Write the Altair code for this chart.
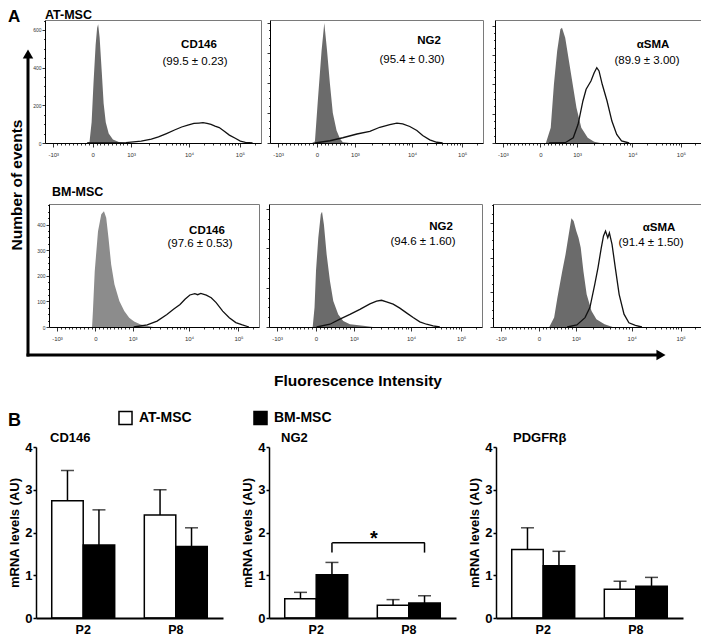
import math
import altair as alt
import pandas as pd

FONT = "Liberation Sans"

# ---------------- Panel A : flow cytometry histograms ----------------
# display channel (0-1024) positions of the decade ticks of the biexponential axis
TICK_CH = [39, 226, 408, 683, 924]
TICK_LABELS = ["-10³", "0", "10³", "10⁴", "10⁵"]

markers = ["CD146", "NG2", "αSMA"]
at_pct = ["(99.5 ± 0.23)", "(95.4 ± 0.30)", "(89.9 ± 3.00)"]
bm_pct = ["(97.6 ± 0.53)", "(94.6 ± 1.60)", "(91.4 ± 1.50)"]

# AT-MSC row: isotype (grey) and marker (black outline) histograms
cd146_at_iso_ch = [197, 211, 221, 230, 240, 247, 252, 259, 269, 278, 288, 302, 322, 350, 384]
cd146_at_iso_n = [0, 5, 110, 320, 520, 610, 630, 560, 380, 210, 110, 50, 18, 5, 0]
cd146_at_ch = [200, 264, 384, 456, 504, 538, 576, 614, 648, 677, 706, 730, 749, 768, 787, 806, 826, 850, 874, 902, 926, 950, 984]
cd146_at_n = [0, 0, 2, 10, 20, 32, 50, 69, 85, 95, 104, 106, 108, 104, 99, 90, 82, 62, 42, 25, 10, 3, 0]

ng2_at_iso_ch = [202, 216, 230, 248, 261, 274, 288, 302, 320, 336, 350, 384]
ng2_at_iso_n = [0, 10, 283, 617, 800, 620, 397, 200, 83, 30, 5, 0]
ng2_at_ch = [216, 288, 350, 418, 480, 528, 576, 610, 638, 672, 706, 734, 768, 802, 830]
ng2_at_n = [0, 15, 35, 60, 78, 105, 123, 132, 128, 110, 83, 50, 21, 5, 0]

asma_at_iso_ch = [253, 277, 293, 309, 325, 333, 349, 373, 389, 405, 429, 461, 493, 523]
asma_at_iso_n = [0, 105, 403, 628, 777, 787, 719, 514, 378, 241, 105, 36, 9, 0]
asma_at_ch = [269, 349, 389, 413, 437, 453, 477, 493, 506, 517, 533, 557, 581, 605, 629, 667]
asma_at_n = [0, 2, 36, 128, 287, 367, 423, 480, 514, 492, 401, 287, 150, 59, 14, 0]

# BM-MSC row
cd146_bm_iso_ch = [210, 214, 223, 239, 255, 268, 279, 290, 303, 319, 343, 367, 391, 415, 447, 479, 509]
cd146_bm_iso_n = [0, 60, 218, 374, 440, 452, 426, 348, 245, 167, 101, 62, 36, 21, 10, 5, 0]
cd146_bm_ch = [413, 479, 527, 575, 607, 639, 663, 687, 711, 725, 740, 767, 791, 815, 847, 879, 911, 943, 975]
cd146_bm_n = [0, 8, 23, 49, 69, 88, 108, 125, 130, 126, 131, 124, 114, 95, 62, 36, 17, 8, 0]

ng2_bm_iso_ch = [210, 219, 226, 237, 249, 255, 264, 277, 293, 309, 333, 357, 389, 453, 500]
ng2_bm_iso_n = [0, 50, 143, 227, 287, 293, 261, 185, 117, 66, 32, 15, 7, 3, 0]
ng2_bm_ch = [229, 293, 341, 389, 437, 485, 517, 541, 565, 597, 629, 661, 693, 725, 757, 789, 821]
ng2_bm_n = [0, 7, 20, 32, 45, 59, 66, 68, 64, 58, 48, 36, 24, 13, 7, 3, 0]

asma_bm_iso_ch = [277, 301, 317, 341, 357, 373, 386, 397, 410, 421, 432, 445, 461, 485, 509, 549, 589]
asma_bm_iso_n = [0, 27, 84, 161, 209, 267, 313, 305, 276, 257, 228, 161, 94, 46, 22, 8, 0]
asma_bm_ch = [365, 413, 453, 477, 501, 517, 533, 544, 554, 565, 573, 586, 602, 621, 645, 669, 701, 733]
asma_bm_n = [0, 6, 27, 56, 123, 171, 228, 262, 276, 257, 271, 238, 171, 94, 37, 12, 5, 0]

# ---------------- Panel B : qPCR bars ----------------
passages = ["P2", "P8"]
groups = ["AT-MSC", "BM-MSC"]
genes = ["CD146", "NG2", "PDGFRβ"]

cd146_at = [2.74, 2.41]
cd146_at_sd = [0.71, 0.59]
cd146_bm = [1.71, 1.67]
cd146_bm_sd = [0.82, 0.44]

ng2_at = [0.45, 0.30]
ng2_at_sd = [0.15, 0.13]
ng2_bm = [1.01, 0.35]
ng2_bm_sd = [0.29, 0.17]

pdgfrb_at = [1.60, 0.67]
pdgfrb_at_sd = [0.51, 0.19]
pdgfrb_bm = [1.22, 0.74]
pdgfrb_bm_sd = [0.34, 0.21]

sig_bracket = [1.53, 1.76]   # NG2 BM-MSC P2 vs P8

# ---------------- layout (pixel ranges of each panel inside one view) ----------------
W, H = 693, 609
ROW1_Y = [134, 11]
ROW2_Y = [318, 195]
BAR_Y = [609, 438]
ROW1_X = [[37, 253], [262, 475], [487, 693]]
ROW2_X = [[41, 251], [261, 474], [485, 693]]
BAR_X = [[28, 215], [261, 448], [488, 675]]

ONE = pd.DataFrame({"k": [0]})


def minor_x():
    vals = []
    for a, b in [(TICK_CH[0], TICK_CH[1]), (TICK_CH[1], TICK_CH[2])]:
        for i in range(1, 10):
            vals.append(round(a + (b - a) * i / 10, 1))
    for a, b in [(TICK_CH[2], TICK_CH[3]), (TICK_CH[3], TICK_CH[4])]:
        for k in range(2, 10):
            vals.append(round(a + (b - a) * math.log10(k), 1))
    d = TICK_CH[4] - TICK_CH[3]
    for k in range(2, 10):
        v = TICK_CH[4] + d * math.log10(k)
        if v < 1022:
            vals.append(round(v, 1))
    return vals


X_VALUES = sorted(set(TICK_CH + minor_x()))
X_LABEL_EXPR = " : ".join(f"datum.value == {c} ? '{l}'" for c, l in zip(TICK_CH, TICK_LABELS)) + " : ''"
X_MAJOR = "indexof([" + ",".join(str(c) for c in TICK_CH) + "], datum.value) >= 0"


def txt(s, x, y, size, weight="normal", align="center", baseline="middle", angle=0, color="black"):
    kw = dict(font=FONT, fontSize=size, fontWeight=weight, align=align, baseline=baseline, color=color)
    if angle:
        kw["angle"] = angle
    return alt.Chart(ONE).mark_text(**kw).encode(x=alt.value(x), y=alt.value(y), text=alt.value(s))


def hist(iso_ch, iso_n, ch, n, ymax, ystep, ylabels, xr, yr, gray, name, pct, name_pos, pct_pos):
    g = pd.DataFrame({"ch": iso_ch, "n": iso_n})
    p = pd.DataFrame({"ch": ch, "n": n})
    xsc = alt.Scale(domain=[0, 1024], range=xr, nice=False, zero=False)
    ysc = alt.Scale(domain=[0, ymax], range=yr, nice=False)
    minor = ystep / 4
    yvals = [round(i * minor, 2) for i in range(int(ymax / minor) + 1)]
    xax = alt.Axis(orient="bottom", offset=-(H - yr[0]), values=X_VALUES, labelExpr=X_LABEL_EXPR,
                   tickSize={"condition": {"test": X_MAJOR, "value": 4}, "value": 2},
                   tickColor="black", tickWidth=0.8, domainColor="black", domainWidth=1,
                   labelFontSize=6, labelColor="#333", labelPadding=4, grid=False, title=None,
                   labelFlush=False, labelOverlap=False, zindex=1)
    yax = alt.Axis(orient="left", offset=-xr[0], values=yvals,
                   labelExpr=(f"datum.value % {ystep} == 0 ? datum.label : ''" if ylabels else "''"),
                   tickSize={"condition": {"test": f"datum.value % {ystep} == 0", "value": 3}, "value": 1.5},
                   tickColor="black", tickWidth=0.8, domainColor="black", domainWidth=1,
                   labelFontSize=5, labelColor="#333", labelPadding=1, grid=False, title=None,
                   labelFlush=False, labelOverlap=False, zindex=1)
    frame_top = alt.Axis(orient="top", offset=-yr[1], ticks=False, labels=False, grid=False, title=None,
                         domainColor="#7a7a7a", domainWidth=1)
    frame_right = alt.Axis(orient="right", offset=-(W - xr[1]), ticks=False, labels=False, grid=False,
                           title=None, domainColor="#7a7a7a", domainWidth=1)
    area = alt.Chart(g).mark_area(color=gray, opacity=1).encode(
        x=alt.X("ch:Q", scale=xsc, axis=xax), y=alt.Y("n:Q", scale=ysc, axis=yax))
    line = alt.Chart(p).mark_line(color="#111", strokeWidth=1.3).encode(
        x=alt.X("ch:Q", scale=xsc, axis=frame_top), y=alt.Y("n:Q", scale=ysc, axis=frame_right))
    lab = txt(name, name_pos[0], name_pos[1], 11.5, "bold")
    sub = txt(pct, pct_pos[0], pct_pos[1], 11.5)
    return [area, line, lab, sub]


layers = []
layers += hist(cd146_at_iso_ch, cd146_at_iso_n, cd146_at_ch, cd146_at_n, 653, 200, True, ROW1_X[0], ROW1_Y,
               "#6b6b6b", markers[0], at_pct[0], (191, 36), (187, 53))
layers += hist(ng2_at_iso_ch, ng2_at_iso_n, ng2_at_ch, ng2_at_n, 820, 200, False, ROW1_X[1], ROW1_Y,
               "#6b6b6b", markers[1], at_pct[1], (421, 32), (404, 51))
layers += hist(asma_at_iso_ch, asma_at_iso_n, asma_at_ch, asma_at_n, 840, 200, False, ROW1_X[2], ROW1_Y,
               "#6b6b6b", markers[2], at_pct[2], (645, 36), (639, 52))
layers += hist(cd146_bm_iso_ch, cd146_bm_iso_n, cd146_bm_ch, cd146_bm_n, 480, 100, True, ROW2_X[0], ROW2_Y,
               "#8c8c8c", markers[0], bm_pct[0], (199, 222), (192, 235))
layers += hist(ng2_bm_iso_ch, ng2_bm_iso_n, ng2_bm_ch, ng2_bm_n, 313, 100, False, ROW2_X[1], ROW2_Y,
               "#6b6b6b", markers[1], bm_pct[1], (433, 218), (415, 233))
layers += hist(asma_bm_iso_ch, asma_bm_iso_n, asma_bm_ch, asma_bm_n, 354, 100, False, ROW2_X[2], ROW2_Y,
               "#6b6b6b", markers[2], bm_pct[2], (651, 219), (643, 234))

# panel A decorations: axis arrows and labels
layers += [
    alt.Chart(ONE).mark_rule(color="black", strokeWidth=3).encode(
        x=alt.value(20), y=alt.value(46), y2=alt.value(347.5)),
    alt.Chart(ONE).mark_rule(color="black", strokeWidth=3).encode(
        x=alt.value(18.5), x2=alt.value(650), y=alt.value(346)),
    alt.Chart(ONE).mark_point(shape="triangle-up", filled=True, color="black", size=110, opacity=1).encode(
        x=alt.value(20), y=alt.value(45)),
    alt.Chart(ONE).mark_point(shape="triangle-right", filled=True, color="black", size=110, opacity=1).encode(
        x=alt.value(653), y=alt.value(346)),
    txt("A", 0, 0, 17, "bold", align="left", baseline="top"),
    txt("AT-MSC", 37, 0, 12.5, "bold", align="left", baseline="top"),
    txt("BM-MSC", 44, 177, 12.5, "bold", align="left", baseline="top"),
    txt("Number of events", 8.5, 176, 15.5, "bold", angle=270),
    txt("Fluorescence Intensity", 350, 372, 15.5, "bold"),
    txt("B", 0, 403, 18, "bold", align="left", baseline="top"),
]

LEGEND = alt.Legend(orient="none", legendX=110, legendY=401, direction="horizontal", title=None,
                    symbolType="square", symbolSize=170, symbolStrokeColor="black",
                    symbolStrokeWidth=1.5, labelFont=FONT, labelFontSize=14, labelFontWeight="bold",
                    labelColor="black", columnPadding=58, labelOffset=6, padding=0)


def bar_scales(xr):
    xsc = alt.Scale(domain=passages, range=xr, paddingInner=0.32, paddingOuter=0.17)
    ysc = alt.Scale(domain=[0, 4], range=BAR_Y, nice=False)
    xo = alt.XOffset("group:N", sort=groups, scale=alt.Scale(domain=groups, paddingInner=0, paddingOuter=0))
    return xsc, ysc, xo


def bar_chart(title, title_x, at, at_sd, bm, bm_sd, xr):
    df = pd.DataFrame({
        "passage": passages * 2,
        "group": [groups[0]] * 2 + [groups[1]] * 2,
        "mean": at + bm,
        "sd": at_sd + bm_sd,
    })
    df["upper"] = df["mean"] + df["sd"]
    xsc, ysc, xo = bar_scales(xr)
    xax = alt.Axis(orient="bottom", offset=0, title=None, labelAngle=0, ticks=False, labelFont=FONT,
                   labelFontSize=12.5, labelFontWeight="bold", labelColor="black", labelPadding=5,
                   domainColor="black", domainWidth=2, zindex=1)
    yax = alt.Axis(orient="left", offset=-xr[0], values=[0, 1, 2, 3, 4], title="mRNA levels (AU)",
                   titleFont=FONT, titleFontSize=13, titleFontWeight="bold", titleColor="black",
                   titlePadding=3, labelFont=FONT, labelFontSize=13, labelFontWeight="bold",
                   labelColor="black", labelPadding=1, tickSize=3, tickWidth=1.5, tickColor="black",
                   domainColor="black", domainWidth=1.5, grid=False, zindex=1)
    err = alt.Chart(df).mark_rule(color="black", strokeWidth=1.5).encode(
        x=alt.X("passage:N", scale=xsc, axis=None), xOffset=xo,
        y=alt.Y("mean:Q", scale=ysc, axis=None), y2="upper:Q")
    cap = alt.Chart(df).mark_tick(color="black", thickness=1.5, size=13, orient="horizontal").encode(
        x=alt.X("passage:N", scale=xsc, axis=None), xOffset=xo,
        y=alt.Y("upper:Q", scale=ysc, axis=None))
    bar = alt.Chart(df).mark_bar(stroke="black", strokeWidth=1.5).encode(
        x=alt.X("passage:N", scale=xsc, axis=xax), xOffset=xo,
        y=alt.Y("mean:Q", scale=ysc, axis=yax),
        fill=alt.Fill("group:N", sort=groups, scale=alt.Scale(domain=groups, range=["white", "black"]),
                      legend=LEGEND))
    t = txt(title, title_x, 429, 13, "bold", align="left")
    return [err, cap, bar, t]


layers += bar_chart(genes[0], 42, cd146_at, cd146_at_sd, cd146_bm, cd146_bm_sd, BAR_X[0])
layers += bar_chart(genes[1], 273, ng2_at, ng2_at_sd, ng2_bm, ng2_bm_sd, BAR_X[1])
layers += bar_chart(genes[2], 505, pdgfrb_at, pdgfrb_at_sd, pdgfrb_bm, pdgfrb_bm_sd, BAR_X[2])

# significance bracket (NG2, BM-MSC P2 vs P8)
xsc2, ysc2, xo2 = bar_scales(BAR_X[1])
br = pd.DataFrame({"passage": passages, "group": [groups[1]] * 2,
                   "lo": [sig_bracket[0]] * 2, "hi": [sig_bracket[1]] * 2})
br_h = pd.DataFrame({"a": [passages[0]], "b": [passages[1]], "y": [sig_bracket[1]]})
layers += [
    alt.Chart(br).mark_rule(color="black", strokeWidth=1.5).encode(
        x=alt.X("passage:N", scale=xsc2, axis=None), xOffset=xo2,
        y=alt.Y("lo:Q", scale=ysc2, axis=None), y2="hi:Q"),
    alt.Chart(br_h).mark_rule(color="black", strokeWidth=1.5, xOffset=16, x2Offset=16).encode(
        x=alt.X("a:N", scale=xsc2, axis=None), x2="b:N",
        y=alt.Y("y:Q", scale=ysc2, axis=None)),
    alt.Chart(ONE).mark_text(text="*", font=FONT, fontSize=20, fontWeight="bold", baseline="middle").encode(
        x=alt.value(366), y=alt.value(530)),
]

chart = alt.layer(*layers).resolve_scale(
    x="independent", y="independent", xOffset="independent"
).resolve_axis(x="independent", y="independent").properties(
    width=W, height=H, padding=0
).configure_view(stroke=None).configure_axis(labelFont=FONT, titleFont=FONT).configure_text(font=FONT)

chart.save("out.html", embed_options={"renderer": "svg", "actions": False})
